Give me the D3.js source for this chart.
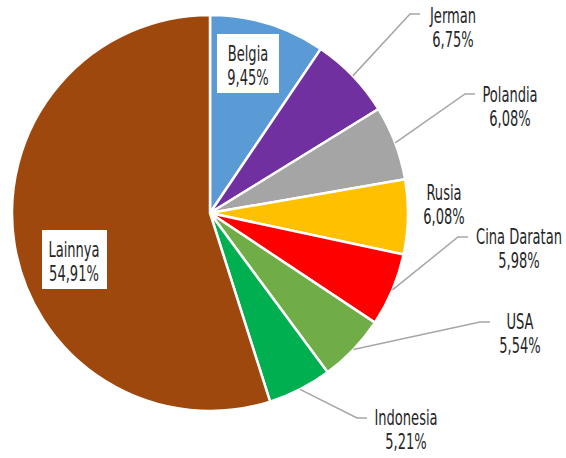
<!DOCTYPE html>
<html>
<head>
<meta charset="utf-8">
<script src="https://cdn.jsdelivr.net/npm/d3@7"></script>
<style>
  html, body { margin: 0; padding: 0; background: #fff; }
  svg { display: block; }
  text { font-family: "DejaVu Sans Condensed", "DejaVu Sans", sans-serif; fill: #262626; }
</style>
</head>
<body>
<svg id="chart" width="566" height="458"></svg>
<script>
// Share of exports by destination (%)
const categories = ["Belgia", "Jerman", "Polandia", "Rusia", "Cina Daratan", "USA", "Indonesia", "Lainnya"];
const values = [9.45, 6.75, 6.08, 6.08, 5.98, 5.54, 5.21, 54.91];
const colors = ["#5B9BD5", "#7030A0", "#A5A5A5", "#FFC000", "#FF0000", "#70AD47", "#00B050", "#9E480E"];

// Label layout: text centre (first line), whether it sits in a boxed label inside
// the slice, and the elbow of its leader line (null = no leader line).
const labelLayout = [
  { x: 248, y: 53, boxed: true,  elbow: null },
  { x: 453, y: 15, boxed: false, elbow: [410, 14] },
  { x: 510, y: 94, boxed: false, elbow: [465, 94] },
  { x: 444, y: 192, boxed: false, elbow: null },
  { x: 519, y: 236, boxed: false, elbow: [458, 237] },
  { x: 520, y: 321, boxed: false, elbow: [480, 322] },
  { x: 406, y: 417, boxed: false, elbow: [357, 418] },
  { x: 74,  y: 249, boxed: true,  elbow: null }
];

const svg = d3.select("#chart");
const cx = 210, cy = 213, radius = 198;
const fmt = v => v.toFixed(2).replace(".", ",") + "%";

const data = categories.map((c, i) => ({ name: c, value: values[i], color: colors[i], layout: labelLayout[i] }));

const pie = d3.pie().value(d => d.value).sort(null);
const arc = d3.arc().innerRadius(0).outerRadius(radius);
const arcs = pie(data);

const g = svg.append("g").attr("transform", `translate(${cx},${cy})`);

g.selectAll("path.slice")
  .data(arcs)
  .join("path")
  .attr("class", "slice")
  .attr("d", arc)
  .attr("fill", d => d.data.color)
  .attr("stroke", "#fff")
  .attr("stroke-width", 2.5)
  .attr("stroke-linejoin", "round");

// Leader lines from the slice rim (at mid-angle) to an elbow, then a short horizontal tail
arcs.filter(d => d.data.layout.elbow).forEach(d => {
  const mid = (d.startAngle + d.endAngle) / 2;
  const sx = cx + radius * Math.sin(mid);
  const sy = cy - radius * Math.cos(mid);
  const [ex, ey] = d.data.layout.elbow;
  svg.append("polyline")
    .attr("points", `${sx},${sy} ${ex},${ey} ${ex + 10},${ey}`)
    .attr("fill", "none")
    .attr("stroke", "#A6A6A6")
    .attr("stroke-width", 1.5);
});

const lineGap = 24.5;
const narrow = 0.66; // narrow the face horizontally

const labels = svg.selectAll("g.label")
  .data(data)
  .join("g")
  .attr("class", "label")
  .attr("transform", d => `translate(${d.layout.x},${d.layout.y})`);

labels.filter(d => d.layout.boxed)
  .append("rect")
  .attr("x", d => d.name === "Lainnya" ? -32 : -31)
  .attr("y", -19)
  .attr("width", d => d.name === "Lainnya" ? 65 : 62)
  .attr("height", 59)
  .attr("fill", "#fff");

const tg = labels.append("g").attr("transform", `scale(${narrow},1)`);
tg.append("text")
  .attr("text-anchor", "middle")
  .attr("y", 8)
  .attr("font-size", 22)
  .text(d => d.name);
tg.append("text")
  .attr("text-anchor", "middle")
  .attr("y", 8 + lineGap)
  .attr("font-size", 22)
  .text(d => fmt(d.value));
</script>
</body>
</html>
